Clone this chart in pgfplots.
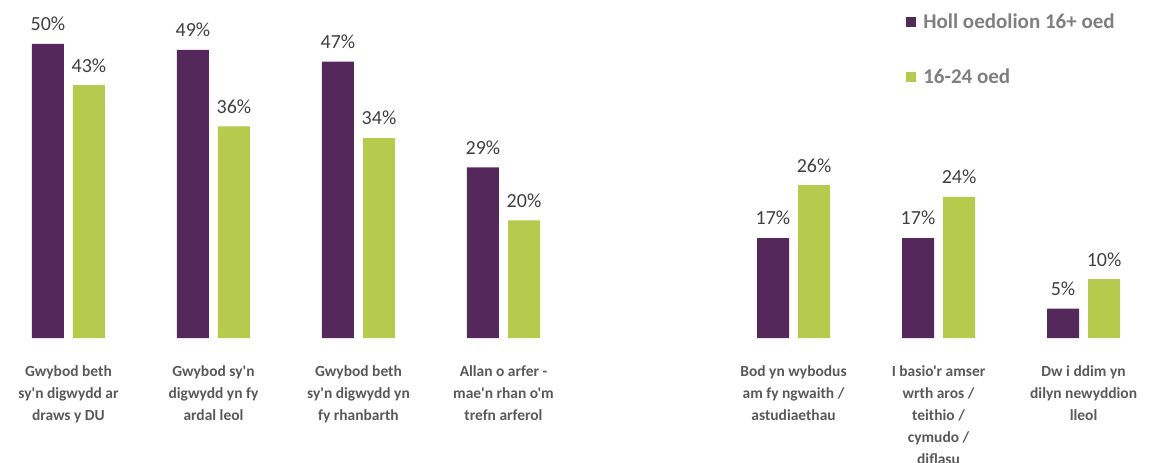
\documentclass[border=0pt]{standalone}
\usepackage{pgfplots}
\pgfplotsset{compat=1.18}
\usepackage{fontspec}
\setmainfont{Carlito}[Ligatures=TeXOff]
\definecolor{cpurple}{HTML}{54285A}
\definecolor{cgreen}{HTML}{B6CA4D}
\definecolor{labgray}{HTML}{595959}
\definecolor{valgray}{HTML}{404040}
\definecolor{leggray}{HTML}{7F7F7F}
\begin{document}
\begin{tikzpicture}
\begin{axis}[
  name=ax,
  scale only axis,
  width=864pt, height=253.5pt,
  xmin=-0.472, xmax=7.472, ymin=0, ymax=57.48,
  axis line style={draw=none},
  ytick=\empty,
  xtick={0,1,2,3,5,6,7},
  xticklabels={
    {Gwybod beth\\sy'n digwydd ar\\draws y DU},
    {Gwybod sy'n\\digwydd yn fy\\ardal leol},
    {Gwybod beth\\sy'n digwydd yn\\fy rhanbarth},
    {Allan o arfer -\\mae'n rhan o'm\\trefn arferol},
    {Bod yn wybodus\\am fy ngwaith /\\astudiaethau},
    {I basio'r amser\\wrth aros /\\teithio /\\cymudo /\\diflasu},
    {Dw i ddim yn\\dilyn newyddion\\lleol}},
  major tick length=0pt,
  xticklabel style={font=\bfseries\fontsize{11.6}{16.5}\selectfont, text=labgray, align=center, anchor=north, inner sep=0pt, yshift=-20.8pt},
  ybar, bar width=24pt,
  clip=false,
  nodes near coords={\pgfmathprintnumber[assume math mode=true]{\pgfplotspointmeta}\%},
  nodes near coords style={font=\fontsize{15}{18}\selectfont, text=valgray, anchor=south, inner sep=0pt, yshift=9.5pt},
  legend style={at={(0.7865,0.9615)}, anchor=north west, draw=none, fill=none, inner sep=0pt,
    font=\bfseries\fontsize{15.75}{18}\selectfont, text=leggray, row sep=28.75pt,
    nodes={inner sep=0pt}},
  legend cell align=left,
  legend image code/.code={\fill[#1] (0pt,-3.75pt) rectangle (7.5pt,3.75pt); \path (12.75pt,0pt);},
]
\addplot[fill=cpurple, draw=none, bar shift=-15.4pt] coordinates {(0,50) (1,49) (2,47) (3,29) (5,17) (6,17) (7,5)};
\addlegendentry{Holl oedolion 16+ oed}
\addplot[fill=cgreen, draw=none, bar shift=15.4pt] coordinates {(0,43) (1,36) (2,34) (3,20) (5,26) (6,24) (7,10)};
\addlegendentry{16-24 oed}
\end{axis}
\pgfresetboundingbox
\path[use as bounding box] ([yshift=-93pt]ax.south west) rectangle (ax.north east);
\end{tikzpicture}
\end{document}
